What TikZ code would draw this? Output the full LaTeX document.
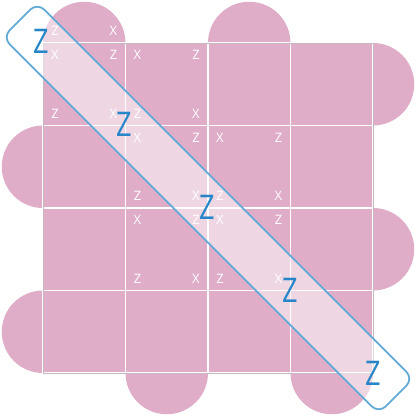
\documentclass[tikz,border=0pt]{standalone}
\usepackage{fontspec}
\setsansfont{Open Sans}
\definecolor{tilepink}{RGB}{223,173,200}
\definecolor{rimgrey}{RGB}{200,182,192}
\definecolor{bandblue}{RGB}{98,170,215}
\definecolor{zblue}{RGB}{38,134,199}
\begin{document}
\begin{tikzpicture}[x=1pt, y=-1pt,
    lobe/.style ={fill=tilepink, draw=none},
    tile/.style ={fill=tilepink, draw=white, line width=1.6pt},
    rim/.style ={draw=rimgrey, line width=0.9pt},
    cornerlbl/.style ={text=white, font=\sffamily\fontsize{13}{13}\selectfont, inner sep=0pt},
    bigz/.style ={text=zblue, font=\sffamily\fontsize{34}{34}\selectfont, inner sep=0pt, xscale=0.8},
    band/.style ={draw=bandblue, line width=1.8pt, fill=white, fill opacity=0.5, rounded corners=10pt,
      minimum width=532pt, minimum height=49pt, rotate=-45}]
   \useasboundingbox (0,0) rectangle (416,416);
   % half discs round the board
   \fill[lobe] (84.25,43) circle (41.25);
   \fill[lobe] (249.25,43) circle (41.25);
   \fill[lobe] (373,84.25) circle (41.25);
   \fill[lobe] (373,249.25) circle (41.25);
   \fill[lobe] (166.75,373) circle (41.25);
   \fill[lobe] (331.75,373) circle (41.25);
   \fill[lobe] (43,166.75) circle (41.25);
   \fill[lobe] (43,331.75) circle (41.25);
   % board
   \foreach \i in {0,...,3}
     \foreach \j in {0,...,3}
       \draw[tile] (43+82.5*\i,43+82.5*\j) rectangle ++(82.5,82.5);
   \draw[rim] (43,43) rectangle (373,373);
   % corner letters
   \node[cornerlbl] (h1) at (55,31) {Z};
   \node[cornerlbl] (h2) at (113.5,31) {X};
   \foreach \cx/\cy [count=\c] in {43/43, 125.5/43, 125.5/125.5, 208/125.5, 125.5/208, 208/208} {
     \node[cornerlbl] (c\c a) at (\cx+12,\cy+12) {X};
     \node[cornerlbl] (c\c b) at (\cx+70.5,\cy+12) {Z};
     \node[cornerlbl] (c\c c) at (\cx+12,\cy+70.5) {Z};
     \node[cornerlbl] (c\c d) at (\cx+70.5,\cy+70.5) {X};
   }
   % diagonal band
   \node[band] (strip) at (208,208) {};
   \foreach \k in {0,...,4}
     \node[bigz] (z\k) at (41+83*\k,41+83*\k) {Z};
 \end{tikzpicture}
\end{document}
